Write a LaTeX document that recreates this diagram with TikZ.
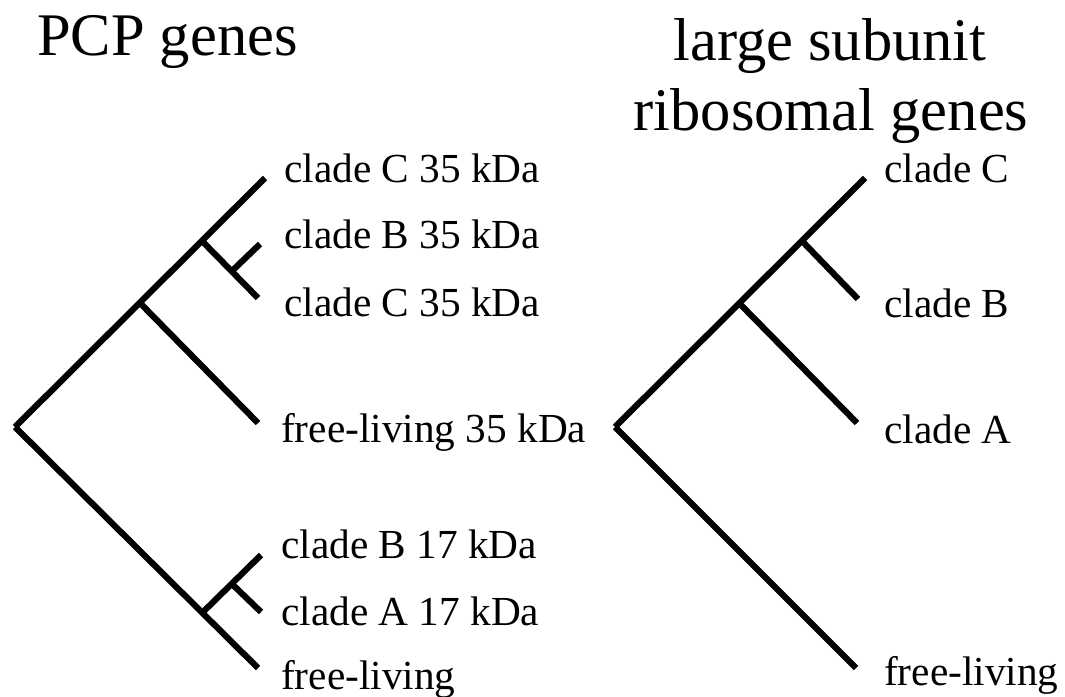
\documentclass[tikz,border=0pt]{standalone}
\usepackage{fontspec}
\setmainfont{Liberation Serif}
\begin{document}
\begin{tikzpicture}[x=1pt,y=-1pt,
  branch/.style={line width=6.2pt,line cap=butt,line join=miter},
  leaf/.style={anchor=base west,inner sep=0pt,font=\fontsize{41.3}{48}\selectfont},
  heading/.style={inner sep=0pt,font=\fontsize{60.5}{70}\selectfont}]
\useasboundingbox (0,0) rectangle (1065,696);

% ---- headings ----
\node[heading,anchor=base west] (hpcp) at (37,55) {PCP genes};
\node[heading,anchor=base] (hlsu1) at (830,60) {large subunit};
\node[heading,anchor=base] (hlsu2) at (831,130) {ribosomal genes};

% ---- PCP gene tree ----
\coordinate (L0) at (15,427);
\coordinate (LN1) at (140,303);
\coordinate (LN2) at (202,241);
\coordinate (LN3) at (232,271);
\coordinate (LN4) at (202,613);
\coordinate (LN5) at (232,584);
\coordinate (Lc1) at (265,178);
\coordinate (Lb35) at (260,244);
\coordinate (Lc2) at (258,298);
\coordinate (Lf35) at (258,423);
\coordinate (Lb17) at (261,555);
\coordinate (La17) at (261,612);
\coordinate (Lf) at (258,668);

\draw[branch] (L0) -- (Lc1);
\draw[branch] (LN1) -- (Lf35);
\draw[branch] (LN2) -- (Lc2);
\draw[branch] (LN3) -- (Lb35);
\draw[branch] (L0) -- (Lf);
\draw[branch] (LN4) -- (Lb17);
\draw[branch] (LN5) -- (La17);

\node[leaf] (tLc1) at (284,182) {clade C 35 kDa};
\node[leaf] (tLb35) at (284,248) {clade B 35 kDa};
\node[leaf] (tLc2) at (284,316) {clade C 35 kDa};
\node[leaf] (tLf35) at (281,442) {free-living 35 kDa};
\node[leaf] (tLb17) at (281,558) {clade B 17 kDa};
\node[leaf] (tLa17) at (281,625) {clade A 17 kDa};
\node[leaf] (tLf) at (281,689) {free-living};

% ---- ribosomal gene tree ----
\coordinate (R0) at (615,427);
\coordinate (RN1) at (740,304);
\coordinate (RN2) at (802,241);
\coordinate (Rc) at (865,178);
\coordinate (Rb) at (858,299);
\coordinate (Ra) at (857,423);
\coordinate (Rf) at (856,668);

\draw[branch] (R0) -- (Rc);
\draw[branch] (RN2) -- (Rb);
\draw[branch] (RN1) -- (Ra);
\draw[branch] (R0) -- (Rf);

\node[leaf] (tRc) at (884,182) {clade C};
\node[leaf] (tRb) at (884,317) {clade B};
\node[leaf] (tRa) at (884,443) {clade A};
\node[leaf] (tRf) at (884,685) {free-living};
\end{tikzpicture}
\end{document}
